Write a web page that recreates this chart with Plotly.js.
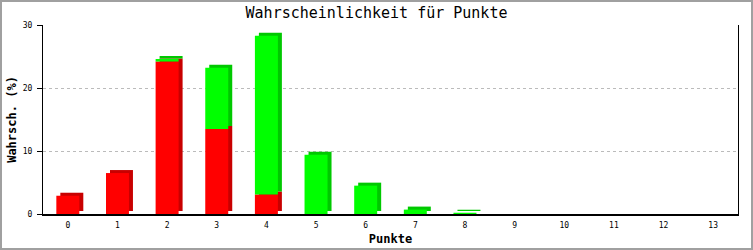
<!DOCTYPE html>
<html>
<head>
<meta charset="utf-8">
<script src="https://cdn.plot.ly/plotly-3.0.1.min.js"></script>
<style>
  html, body { margin: 0; padding: 0; background: #fff; }
  #wrap { position: relative; width: 753px; height: 250px; }
  #chart { position: absolute; left: 0; top: 0; width: 753px; height: 250px; }
  #frame { position: absolute; left: 0; top: 0; width: 753px; height: 250px; box-sizing: border-box; border: 2px solid #a0a0a0; pointer-events: none; }
</style>
</head>
<body>
<div id="wrap"><div id="chart"></div><div id="frame"></div></div>
<script>
// Data
const categories = ["0","1","2","3","4","5","6","7","8","9","10","11","12","13"];
const redValues   = [2.9, 6.5, 24.2, 13.5, 3.1, 0, 0, 0, 0, 0, 0, 0, 0, 0];
const greenValues = [0, 0, 0.4, 9.7, 25.2, 9.4, 4.5, 0.7, 0.2, 0, 0, 0, 0, 0];
const yTicks = [0, 10, 20, 30];

// Geometry / style
const W = 753, H = 250, M = {l: 43, r: 15, t: 25, b: 36};
const plotW = W - M.l - M.r, plotH = H - M.t - M.b;
const yMax = 30;
const catPx = plotW / categories.length;
const barW = 0.463;
const depthX = 4 / catPx;          // side depth in category units
const depthY = 3 * yMax / plotH;   // top depth in value units

const xIdx = categories.map((c, i) => i);
const greenBase = redValues.slice();
const redShadowBase = redValues.map(() => depthY);
const greenShadowBase = redValues.map(v => v + depthY);

function bar(y, base, color, offset) {
  return {
    type: 'bar', x: xIdx, y: y, base: base,
    width: barW, offset: offset,
    marker: {color: color, line: {width: 0}},
    hoverinfo: 'skip', showlegend: false
  };
}

const traces = [
  bar(redValues, redShadowBase, '#c80000', -barW / 2 + depthX),
  bar(greenValues, greenShadowBase, '#00c800', -barW / 2 + depthX),
  bar(redValues, redValues.map(() => 0), '#ff0000', -barW / 2),
  bar(greenValues, greenBase, '#00ff00', -barW / 2)
];

const mono = '"DejaVu Sans Mono", monospace';
const layout = {
  width: W, height: H,
  margin: M,
  paper_bgcolor: '#ffffff', plot_bgcolor: '#ffffff',
  barmode: 'overlay',
  title: {
    text: 'Wahrscheinlichkeit für Punkte',
    font: {family: mono, size: 15, color: '#000'},
    x: 0.5, xref: 'container', xanchor: 'center',
    y: 1, yref: 'container', yanchor: 'top', pad: {t: 7}
  },
  xaxis: {
    range: [-0.5, categories.length - 0.5],
    tickmode: 'array', tickvals: xIdx, ticktext: categories,
    showgrid: false, zeroline: false,
    showline: true, linecolor: '#000', linewidth: 2,
    ticks: '', ticklabelstandoff: 2,
    tickfont: {family: mono, size: 8, color: '#000'},
    title: {text: '<b>Punkte</b>', font: {family: mono, size: 12, color: '#000'}, standoff: 6},
    fixedrange: true
  },
  yaxis: {
    range: [0, yMax],
    tickmode: 'array', tickvals: yTicks,
    showgrid: true, gridcolor: '#bbbbbb', griddash: 'dot', gridwidth: 1,
    zeroline: false,
    showline: true, linecolor: '#000', linewidth: 1, mirror: true,
    ticks: 'outside', ticklen: 5, tickcolor: '#000', tickwidth: 1,
    ticklabelstandoff: 3,
    tickfont: {family: mono, size: 8, color: '#000'},
    title: {text: '<b>Wahrsch. (%)</b>', font: {family: mono, size: 12, color: '#000'}, standoff: 3},
    fixedrange: true
  }
};

Plotly.newPlot('chart', traces, layout, {displayModeBar: false, staticPlot: true});
</script>
</body>
</html>
